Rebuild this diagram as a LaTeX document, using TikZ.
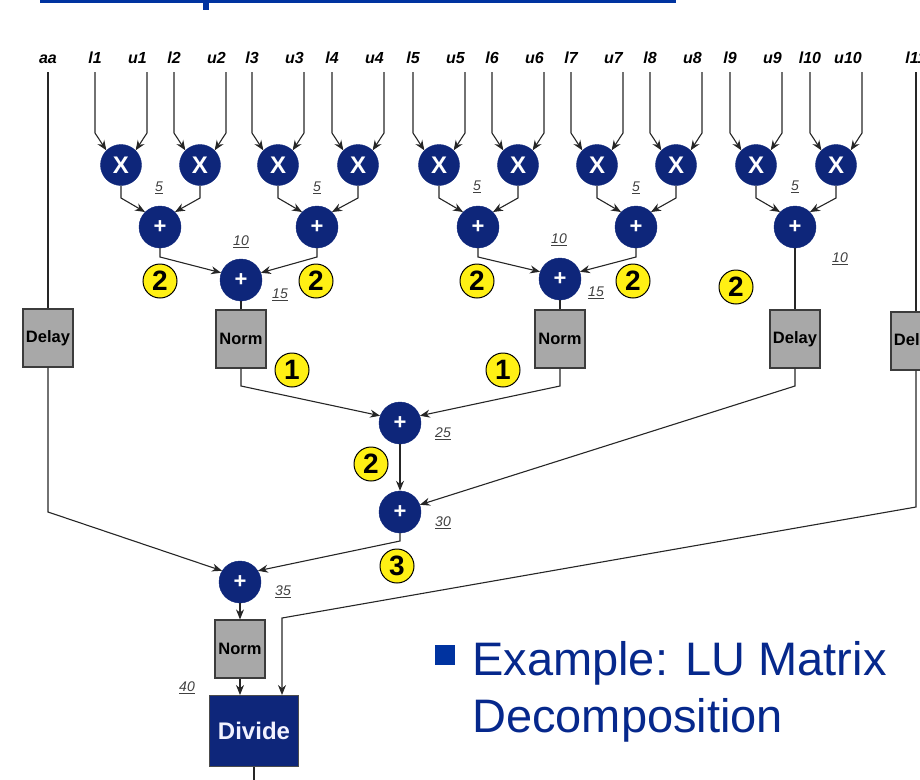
\documentclass[tikz,border=0pt]{standalone}
\usepackage{fontspec}
\setmainfont{Liberation Sans}
\usetikzlibrary{arrows.meta}

\definecolor{opnavy}{RGB}{14,38,122}
\definecolor{barblue}{RGB}{0,51,160}
\definecolor{textnavy}{RGB}{6,40,140}
\definecolor{tagyellow}{RGB}{255,240,20}
\definecolor{boxgray}{RGB}{168,168,168}
\definecolor{boxedge}{RGB}{60,60,60}

\tikzset{
  wire/.style={draw=black!85, line width=1.1pt},
  arr/.style={wire, -{Stealth[length=10pt,width=8pt]}},
  inlab/.style={inner xsep=0pt, inner ysep=8pt, text height=11pt, text depth=0pt,
    font=\fontsize{16}{18}\selectfont\bfseries\itshape},
  mulop/.style={circle, fill=opnavy, draw=opnavy, minimum size=41pt, inner sep=0pt,
    text=white, font=\fontsize{24}{24}\selectfont\bfseries},
  addop/.style={circle, fill=opnavy, draw=opnavy, minimum size=42pt, inner sep=0pt,
    text=white, font=\fontsize{22}{22}\selectfont\bfseries},
  stagetag/.style={circle, fill=tagyellow, draw=black, line width=1pt, minimum size=34pt,
    inner sep=0pt, font=\fontsize{28}{28}\selectfont\bfseries},
  lattext/.style={inner sep=0pt, text=black!75, font=\fontsize{14}{14}\selectfont\itshape},
  fubox/.style={rectangle, fill=boxgray, draw=boxedge, line width=1.2pt, minimum width=50pt,
    minimum height=58pt, inner sep=0pt, font=\fontsize{16.5}{16.5}\selectfont\bfseries},
  divbox/.style={rectangle, fill=opnavy, draw=black!70, line width=1pt, minimum width=89pt,
    minimum height=71pt, inner sep=0pt, text=blue!5, font=\fontsize{24}{24}\selectfont\bfseries},
}

\begin{document}
\begin{tikzpicture}[x=1pt,y=-1pt]
\clip (0,0) rectangle (920,779);

% title rule
\fill[barblue] (40,0) rectangle (676,3.3);
\fill[barblue] (203,0) rectangle (209,10);

% heights where the wires bend
\coordinate (inbend) at (0,133);
\coordinate (mulbend) at (0,198);
\coordinate (addbend) at (0,257);
\coordinate (normbend) at (0,386);
\coordinate (farbend) at (0,507);
\coordinate (delaybend) at (0,512);
\coordinate (lowbend) at (0,541);
\coordinate (dvin) at (282,618);
\coordinate (outpt) at (0,790);

% inputs
\node[inlab,anchor=south] (aa) at (48,72) {aa};
\node[inlab,anchor=south] (l1) at (95,72) {l1};
\node[inlab,anchor=south east] (u1) at (147,72) {u1};
\node[inlab,anchor=south] (l2) at (174,72) {l2};
\node[inlab,anchor=south east] (u2) at (226,72) {u2};
\node[inlab,anchor=south] (l3) at (252,72) {l3};
\node[inlab,anchor=south east] (u3) at (304,72) {u3};
\node[inlab,anchor=south] (l4) at (332,72) {l4};
\node[inlab,anchor=south east] (u4) at (384,72) {u4};
\node[inlab,anchor=south] (l5) at (413,72) {l5};
\node[inlab,anchor=south east] (u5) at (465,72) {u5};
\node[inlab,anchor=south] (l6) at (492,72) {l6};
\node[inlab,anchor=south east] (u6) at (544,72) {u6};
\node[inlab,anchor=south] (l7) at (571,72) {l7};
\node[inlab,anchor=south east] (u7) at (623,72) {u7};
\node[inlab,anchor=south] (l8) at (650,72) {l8};
\node[inlab,anchor=south east] (u8) at (702,72) {u8};
\node[inlab,anchor=south] (l9) at (730,72) {l9};
\node[inlab,anchor=south east] (u9) at (782,72) {u9};
\node[inlab,anchor=south] (l10) at (810,72) {l10};
\node[inlab,anchor=south east] (u10) at (862,72) {u10};
\node[inlab,anchor=south] (l11) at (916,72) {l11};

% multipliers
\node[mulop] (x1) at (121,165) {X};
\node[mulop] (x2) at (200,165) {X};
\node[mulop] (x3) at (278,165) {X};
\node[mulop] (x4) at (358,165) {X};
\node[mulop] (x5) at (439,165) {X};
\node[mulop] (x6) at (518,165) {X};
\node[mulop] (x7) at (597,165) {X};
\node[mulop] (x8) at (676,165) {X};
\node[mulop] (x9) at (756,165) {X};
\node[mulop] (x10) at (836,165) {X};

% adders
\node[addop] (a1) at (160,227) {+};
\node[addop] (a2) at (317,227) {+};
\node[addop] (a3) at (478,227) {+};
\node[addop] (a4) at (636,227) {+};
\node[addop] (a5) at (795,227) {+};
\node[addop] (b1) at (241,280) {+};
\node[addop] (b2) at (560,279) {+};
\node[addop] (c1) at (400,423) {+};
\node[addop] (d1) at (400,512) {+};
\node[addop] (e1) at (240,582) {+};

% norm / delay units
\node[fubox] (delay1) at (48,338) {Delay};
\node[fubox] (norm1) at (241,339) {Norm};
\node[fubox] (norm2) at (560,339) {Norm};
\node[fubox] (delay2) at (795,339) {Delay};
\node[fubox] (delay3) at (916,341) {Delay};
\node[fubox] (norm3) at (240,649) {Norm};
\node[divbox] (divide) at (254,731) {Divide};

% pipeline stage counts
\node[stagetag] (t1) at (160,281) {2};
\node[stagetag] (t2) at (316,281) {2};
\node[stagetag] (t3) at (477,281) {2};
\node[stagetag] (t4) at (633,281) {2};
\node[stagetag] (t5) at (736,287) {2};
\node[stagetag] (t6) at (292,370) {1};
\node[stagetag] (t7) at (503,370) {1};
\node[stagetag] (t8) at (371,464) {2};
\node[stagetag] (t9) at (397,566) {3};

% latencies
\node[lattext] (n1) at (159,188) {\underline{5}};
\node[lattext] (n2) at (317,188) {\underline{5}};
\node[lattext] (n3) at (477,187) {\underline{5}};
\node[lattext] (n4) at (636,188) {\underline{5}};
\node[lattext] (n5) at (795,187) {\underline{5}};
\node[lattext] (n6) at (241,242) {\underline{10}};
\node[lattext] (n7) at (559,240) {\underline{10}};
\node[lattext] (n8) at (840,259) {\underline{10}};
\node[lattext] (n9) at (280,295) {\underline{15}};
\node[lattext] (n10) at (596,293) {\underline{15}};
\node[lattext] (n11) at (443,434) {\underline{25}};
\node[lattext] (n12) at (443,523) {\underline{30}};
\node[lattext] (n13) at (283,592) {\underline{35}};
\node[lattext] (n14) at (187,688) {\underline{40}};

% inputs into multipliers
\draw[arr] (l1.south) -- (l1.south |- inbend) -- (x1.135);
\draw[arr] (u1.south east) -- (u1.south east |- inbend) -- (x1.45);
\draw[arr] (l2.south) -- (l2.south |- inbend) -- (x2.135);
\draw[arr] (u2.south east) -- (u2.south east |- inbend) -- (x2.45);
\draw[arr] (l3.south) -- (l3.south |- inbend) -- (x3.135);
\draw[arr] (u3.south east) -- (u3.south east |- inbend) -- (x3.45);
\draw[arr] (l4.south) -- (l4.south |- inbend) -- (x4.135);
\draw[arr] (u4.south east) -- (u4.south east |- inbend) -- (x4.45);
\draw[arr] (l5.south) -- (l5.south |- inbend) -- (x5.135);
\draw[arr] (u5.south east) -- (u5.south east |- inbend) -- (x5.45);
\draw[arr] (l6.south) -- (l6.south |- inbend) -- (x6.135);
\draw[arr] (u6.south east) -- (u6.south east |- inbend) -- (x6.45);
\draw[arr] (l7.south) -- (l7.south |- inbend) -- (x7.135);
\draw[arr] (u7.south east) -- (u7.south east |- inbend) -- (x7.45);
\draw[arr] (l8.south) -- (l8.south |- inbend) -- (x8.135);
\draw[arr] (u8.south east) -- (u8.south east |- inbend) -- (x8.45);
\draw[arr] (l9.south) -- (l9.south |- inbend) -- (x9.135);
\draw[arr] (u9.south east) -- (u9.south east |- inbend) -- (x9.45);
\draw[arr] (l10.south) -- (l10.south |- inbend) -- (x10.135);
\draw[arr] (u10.south east) -- (u10.south east |- inbend) -- (x10.45);

% products into first adders
\draw[arr] (x1.south) -- (x1.south |- mulbend) -- (a1.135);
\draw[arr] (x2.south) -- (x2.south |- mulbend) -- (a1.45);
\draw[arr] (x3.south) -- (x3.south |- mulbend) -- (a2.135);
\draw[arr] (x4.south) -- (x4.south |- mulbend) -- (a2.45);
\draw[arr] (x5.south) -- (x5.south |- mulbend) -- (a3.135);
\draw[arr] (x6.south) -- (x6.south |- mulbend) -- (a3.45);
\draw[arr] (x7.south) -- (x7.south |- mulbend) -- (a4.135);
\draw[arr] (x8.south) -- (x8.south |- mulbend) -- (a4.45);
\draw[arr] (x9.south) -- (x9.south |- mulbend) -- (a5.135);
\draw[arr] (x10.south) -- (x10.south |- mulbend) -- (a5.45);

% second adders
\draw[arr] (a1.south) -- (a1.south |- addbend) -- (b1.160);
\draw[arr] (a2.south) -- (a2.south |- addbend) -- (b1.20);
\draw[arr] (a3.south) -- (a3.south |- addbend) -- (b2.160);
\draw[arr] (a4.south) -- (a4.south |- addbend) -- (b2.20);

% into norm / delay units
\draw[wire] (aa.south) -- (delay1.north);
\draw[wire] (b1.south) -- (norm1.north);
\draw[wire] (b2.south) -- (norm2.north);
\draw[wire] (a5.south) -- (delay2.north);
\draw[wire] (l11.south) -- (delay3.north);

% lower tree
\draw[arr] (norm1.south) -- (norm1.south |- normbend) -- (c1.160);
\draw[arr] (norm2.south) -- (norm2.south |- normbend) -- (c1.20);
\draw[arr] (c1.south) -- (d1.north);
\draw[arr] (delay2.south) -- (delay2.south |- normbend) -- (d1.20);
\draw[arr] (delay1.south) -- (delay1.south |- delaybend) -- (e1.148);
\draw[arr] (d1.south) -- (d1.south |- lowbend) -- (e1.32);
\draw[arr] (e1.south) -- (norm3.north);
\draw[arr] (norm3.south) -- (norm3.south |- divide.north);
\draw[arr] (delay3.south) -- (delay3.south |- farbend) -- (dvin) -- (dvin |- divide.north);
\draw[wire] (divide.south) -- (divide.south |- outpt);

% bullet text
\fill[barblue] (435,645) rectangle (455,665);
\node[anchor=base west, inner sep=0pt, text=textnavy, font=\fontsize{47}{47}\selectfont] (ex1) at (472,675) {Example: LU Matrix};
\node[anchor=base west, inner sep=0pt, text=textnavy, font=\fontsize{47}{47}\selectfont] (ex2) at (472,732) {Decomposition};

\end{tikzpicture}
\end{document}
